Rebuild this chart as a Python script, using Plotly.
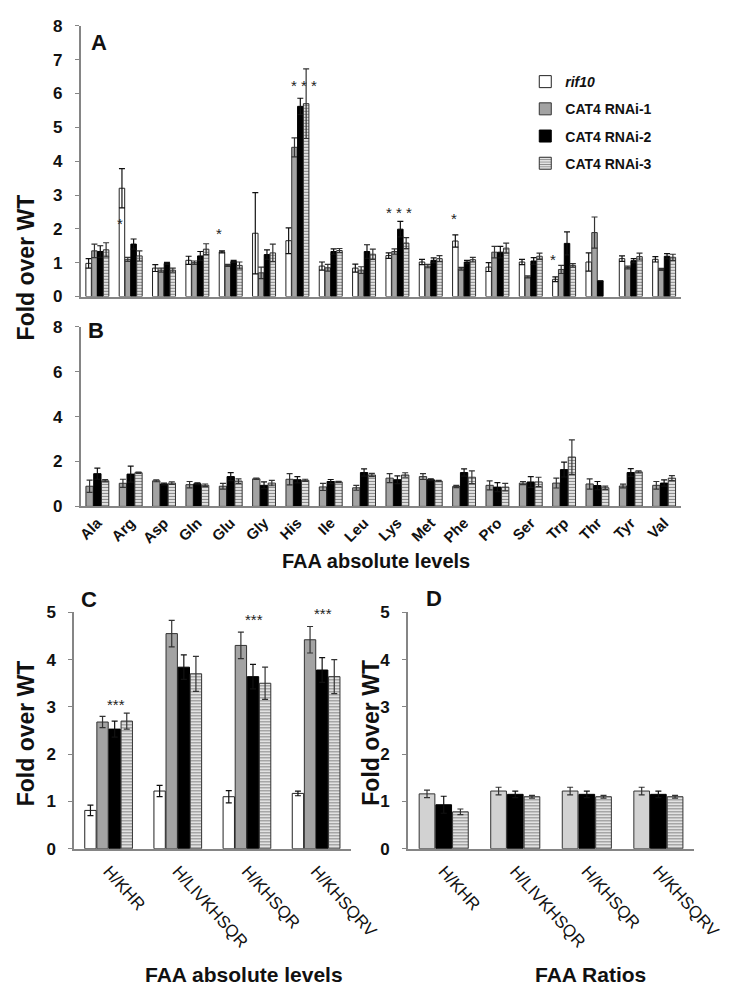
import plotly.graph_objects as go

# ---------------- data ----------------
series_names = ["<i>rif10</i>", "CAT4 RNAi-1", "CAT4 RNAi-2", "CAT4 RNAi-3"]

aa_cats = ["Ala", "Arg", "Asp", "Gln", "Glu", "Gly", "His", "Ile", "Leu",
           "Lys", "Met", "Phe", "Pro", "Ser", "Trp", "Thr", "Tyr", "Val"]

# Panel A
A_rif10 = [0.98, 3.20, 0.84, 1.07, 1.32, 1.87, 1.65, 0.90, 0.84, 1.21, 1.02, 1.64, 0.87, 1.02, 0.51, 1.02, 1.12, 1.10]
A_rif10_err = [0.14, 0.58, 0.10, 0.12, 0.03, 1.20, 0.38, 0.12, 0.12, 0.08, 0.08, 0.18, 0.13, 0.08, 0.07, 0.27, 0.08, 0.08]
A_rnai1 = [1.35, 1.10, 0.78, 1.00, 0.92, 0.70, 4.41, 0.85, 0.78, 1.33, 0.90, 0.82, 1.31, 0.58, 0.80, 1.89, 0.86, 0.80]
A_rnai1_err = [0.20, 0.06, 0.06, 0.05, 0.03, 0.17, 0.28, 0.10, 0.10, 0.08, 0.05, 0.04, 0.17, 0.03, 0.12, 0.46, 0.04, 0.03]
A_rnai2 = [1.33, 1.55, 0.98, 1.20, 1.04, 1.24, 5.62, 1.33, 1.33, 1.99, 1.07, 1.02, 1.31, 1.05, 1.57, 0.46, 1.06, 1.19]
A_rnai2_err = [0.17, 0.15, 0.03, 0.13, 0.03, 0.14, 0.24, 0.08, 0.20, 0.23, 0.07, 0.05, 0.17, 0.10, 0.34, 0.00, 0.06, 0.08]
A_rnai3 = [1.38, 1.20, 0.78, 1.40, 0.92, 1.29, 5.70, 1.36, 1.25, 1.58, 1.12, 1.09, 1.43, 1.19, 0.92, None, 1.18, 1.16]
A_rnai3_err = [0.21, 0.15, 0.06, 0.16, 0.10, 0.26, 1.03, 0.06, 0.15, 0.16, 0.09, 0.07, 0.15, 0.09, 0.05, 0.00, 0.10, 0.09]

# Panel B
B_rnai1 = [0.90, 1.03, 1.14, 0.97, 0.90, 1.23, 1.21, 0.87, 0.83, 1.26, 1.33, 0.89, 0.94, 1.04, 1.04, 1.00, 0.91, 0.94]
B_rnai1_err = [0.27, 0.18, 0.04, 0.14, 0.13, 0.03, 0.25, 0.16, 0.11, 0.20, 0.13, 0.05, 0.20, 0.07, 0.22, 0.23, 0.08, 0.17]
B_rnai2 = [1.46, 1.44, 1.00, 1.01, 1.33, 0.94, 1.19, 1.11, 1.51, 1.19, 1.19, 1.51, 0.86, 1.09, 1.64, 0.93, 1.51, 1.04]
B_rnai2_err = [0.25, 0.36, 0.04, 0.04, 0.18, 0.15, 0.14, 0.09, 0.16, 0.17, 0.04, 0.16, 0.20, 0.24, 0.33, 0.18, 0.17, 0.14]
B_rnai3 = [1.14, 1.50, 1.04, 0.94, 1.13, 1.04, 1.16, 1.09, 1.40, 1.40, 1.13, 1.30, 0.86, 1.09, 2.20, 0.83, 1.54, 1.26]
B_rnai3_err = [0.05, 0.03, 0.06, 0.06, 0.10, 0.12, 0.05, 0.03, 0.07, 0.10, 0.03, 0.28, 0.17, 0.21, 0.77, 0.07, 0.05, 0.11]

ratio_cats = ["H/KHR", "H/LIVKHSQR", "H/KHSQR", "H/KHSQRV"]

# Panel C
C_rif10 = [0.81, 1.22, 1.10, 1.17]
C_rif10_err = [0.11, 0.12, 0.13, 0.05]
C_rnai1 = [2.68, 4.55, 4.30, 4.42]
C_rnai1_err = [0.12, 0.28, 0.28, 0.28]
C_rnai2 = [2.53, 3.84, 3.64, 3.78]
C_rnai2_err = [0.17, 0.26, 0.26, 0.26]
C_rnai3 = [2.70, 3.70, 3.50, 3.64]
C_rnai3_err = [0.17, 0.37, 0.34, 0.36]

# Panel D
D_rnai1 = [1.16, 1.22, 1.22, 1.22]
D_rnai1_err = [0.08, 0.08, 0.08, 0.08]
D_rnai2 = [0.93, 1.15, 1.15, 1.15]
D_rnai2_err = [0.18, 0.07, 0.07, 0.07]
D_rnai3 = [0.78, 1.10, 1.10, 1.10]
D_rnai3_err = [0.06, 0.03, 0.03, 0.03]

# significance marks
A_sig_cats = ["Arg", "Glu", "His", "Lys", "Phe", "Trp"]
A_sig_y = [2.17, 1.86, 6.23, 2.48, 2.30, 1.10]
A_sig_text = ["*", "*", "* * *", "* * *", "*", "*"]
C_sig_cats = ["H/KHR", "H/LIVKHSQR", "H/KHSQR", "H/KHSQRV"]
C_sig_y = [3.05, 5.02, 4.85, 4.97]
C_sig_text = ["***", "***", "***", "***"]

# ---------------- layout helpers ----------------
W, H = 740, 989
FONT = "Liberation Sans, Arial, sans-serif"


def px(x):
    return x / W


def py(y):
    return 1 - y / H


STYLES = [
    dict(color="white", line="#222222", err="#111111", pattern=None),
    dict(color="#a3a3a3", line="#333333", err="#333333", pattern=None),
    dict(color="#000000", line="#000000", err="#111111", pattern=None),
    dict(color="white", line="#333333", err="#333333",
         pattern=dict(shape="-", size=3, solidity=0.5, fgcolor="#111111", bgcolor="white")),
]

fig = go.Figure()


def add_bar(x, y, err, style_idx, xa, ya, name, showlegend=False, color=None):
    st = STYLES[style_idx]
    marker = dict(color=color or st["color"], line=dict(color=st["line"], width=1))
    if st["pattern"]:
        marker["pattern"] = st["pattern"]
    fig.add_trace(go.Bar(
        x=x, y=y, name=name, xaxis=xa, yaxis=ya, marker=marker,
        error_y=dict(type="data", array=err, symmetric=True, thickness=1.2,
                     width=3, color=st["err"]),
        showlegend=showlegend, legendgroup=name,
    ))


# Panel A
for i, (vals, errs) in enumerate([(A_rif10, A_rif10_err), (A_rnai1, A_rnai1_err),
                                  (A_rnai2, A_rnai2_err), (A_rnai3, A_rnai3_err)]):
    add_bar(aa_cats, vals, errs, i, "x", "y", series_names[i], showlegend=True)

# Panel B
for i, (vals, errs) in enumerate([(B_rnai1, B_rnai1_err), (B_rnai2, B_rnai2_err),
                                  (B_rnai3, B_rnai3_err)], start=1):
    add_bar(aa_cats, vals, errs, i, "x2", "y2", series_names[i])

# Panel C
for i, (vals, errs) in enumerate([(C_rif10, C_rif10_err), (C_rnai1, C_rnai1_err),
                                  (C_rnai2, C_rnai2_err), (C_rnai3, C_rnai3_err)]):
    add_bar(ratio_cats, vals, errs, i, "x3", "y3", series_names[i])

# Panel D
for i, (vals, errs) in enumerate([(D_rnai1, D_rnai1_err), (D_rnai2, D_rnai2_err),
                                  (D_rnai3, D_rnai3_err)], start=1):
    add_bar(ratio_cats, vals, errs, i, "x4", "y4", series_names[i],
            color="#d2d2d2" if i == 1 else None)

AXC = "#858585"
ybase = dict(showline=True, linecolor=AXC, linewidth=1.5, ticks="outside", ticklen=4,
             tickcolor=AXC, showgrid=False, zeroline=False,
             tickfont=dict(family=FONT, size=17, color="#111", weight="bold"),
             ticklabelstandoff=9)
xbase = dict(type="category", showline=True, linecolor=AXC, linewidth=2, ticks="",
             showgrid=False, zeroline=False)

fig.update_layout(
    width=W, height=H, margin=dict(l=0, r=0, t=0, b=0),
    paper_bgcolor="white", plot_bgcolor="white",
    barmode="group", bargap=0.3, bargroupgap=0.06,
    font=dict(family=FONT, color="#111"),
    xaxis=dict(xbase, domain=[px(72), px(701)], anchor="y", showticklabels=False),
    yaxis=dict(ybase, domain=[py(285), py(9)], range=[0, 8], tickvals=list(range(9)), anchor="x"),
    xaxis2=dict(xbase, domain=[px(72), px(701)], anchor="y2", tickangle=-45,
                tickfont=dict(family=FONT, size=15, color="#111", weight="bold")),
    yaxis2=dict(ybase, domain=[py(499), py(316)], range=[0, 8], tickvals=[0, 2, 4, 6, 8], anchor="x2"),
    xaxis3=dict(xbase, domain=[px(65), px(355)], anchor="y3", tickangle=48,
                tickfont=dict(family=FONT, size=17, color="#111"), ticklabelstandoff=4),
    yaxis3=dict(ybase, domain=[py(848), py(607)], range=[0, 5], tickvals=list(range(6)), anchor="x3"),
    xaxis4=dict(xbase, domain=[px(415), px(715)], anchor="y4", tickangle=48,
                tickfont=dict(family=FONT, size=17, color="#111"), ticklabelstandoff=4),
    yaxis4=dict(ybase, domain=[py(848), py(607)], range=[0, 5], tickvals=list(range(6)), anchor="x4"),
    legend=dict(x=px(538), y=py(50), xanchor="left", yanchor="top",
                font=dict(family=FONT, size=14, color="#111", weight="bold"),
                traceorder="grouped", tracegroupgap=6, bgcolor="rgba(0,0,0,0)",
                itemwidth=30),
)

ann = []


def label(text, x, y, size, angle=0, bold=True):
    ann.append(dict(text=text, x=px(x), y=py(y), xref="paper", yref="paper",
                    showarrow=False, textangle=angle, xanchor="center", yanchor="middle",
                    font=dict(family=FONT, size=size, color="#111",
                              weight="bold" if bold else "normal")))


label("A", 91, 26, 22)
label("B", 88, 320, 22)
label("C", 81, 594, 22)
label("D", 442, 593, 22)
label("Fold over WT", 15, 255, 23, angle=-90)
label("Fold over WT", 15, 730, 23, angle=-90)
label("Fold over WT", 376, 730, 23, angle=-90)
label("FAA absolute levels", 382, 555, 20)
label("FAA absolute levels", 243, 976, 21)
label("FAA Ratios", 606, 976, 21)

A_shift = {"Arg": -11, "Glu": -12, "His": 7, "Lys": 2, "Phe": -10, "Trp": -11}
for c, yv, t in zip(A_sig_cats, A_sig_y, A_sig_text):
    ann.append(dict(text=t, x=c, y=yv, xref="x", yref="y", showarrow=False,
                    xshift=A_shift[c], yanchor="middle",
                    font=dict(family=FONT, size=15, color="#222")))
for c, yv, t in zip(C_sig_cats, C_sig_y, C_sig_text):
    ann.append(dict(text=t, x=c, y=yv, xref="x3", yref="y3", showarrow=False,
                    xshift=7, yanchor="middle",
                    font=dict(family=FONT, size=15, color="#222")))

fig.update_layout(annotations=ann)
fig.write_html("out.html")
